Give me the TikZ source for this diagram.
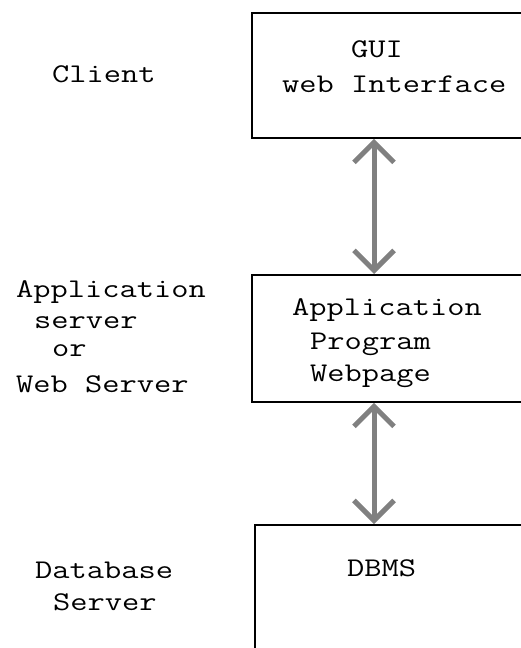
\documentclass[tikz,border=0pt]{standalone}
\usetikzlibrary{arrows.meta}
\newcommand\widetxt[1]{\scalebox{1.24}[1]{#1}}
\begin{document}
\begin{tikzpicture}[x=1pt,y=-1pt,
  tierbox/.style={draw=black, line width=1.8pt, fill=none, inner sep=0pt, anchor=north west},
  lbl/.style={anchor=base west, inner sep=0pt, font=\ttfamily\fontsize{27}{32}\selectfont, text=black},
  link/.style={draw=black!50, line width=5pt, {Straight Barb[length=20pt,width=40pt]}-{Straight Barb[length=20pt,width=40pt]}}]
\useasboundingbox (0,0) rectangle (521,648);
\clip (0,0) rectangle (521,648);
\fill[white] (0,0) rectangle (521,648);
% boxes
\node[tierbox, minimum width=290pt, minimum height=125pt] (gui) at (251,12) {};
\node[tierbox, minimum width=290pt, minimum height=127pt] (app) at (251,274) {};
\node[tierbox, minimum width=290pt, minimum height=150pt] (db) at (254,524) {};
\coordinate (ax) at (374,0);
% connectors
\draw[link] (gui.south -| ax) -- (app.north -| ax);
\draw[link] (app.south -| ax) -- (db.north -| ax);
% box texts
\node[lbl] (t1) at (351,57) {\widetxt{GUI}};
\node[lbl] (t2) at (282,92) {\widetxt{web Interface}};
\node[lbl] (t3) at (292,315) {\widetxt{Application}};
\node[lbl] (t4) at (310,349) {\widetxt{Program}};
\node[lbl] (t5) at (310,381) {\widetxt{Webpage}};
\node[lbl] (t6) at (347,576) {\widetxt{DBMS}};
% left labels
\node[lbl] (l1) at (52,82) {\widetxt{Client}};
\node[lbl] (l2) at (16,297) {\widetxt{Application}};
\node[lbl] (l3) at (34,328) {\widetxt{server}};
\node[lbl] (l4) at (52,356) {\widetxt{or}};
\node[lbl] (l5) at (16,392) {\widetxt{Web Server}};
\node[lbl] (l6) at (35,578) {\widetxt{Database}};
\node[lbl] (l7) at (53,610) {\widetxt{Server}};
\end{tikzpicture}
\end{document}
